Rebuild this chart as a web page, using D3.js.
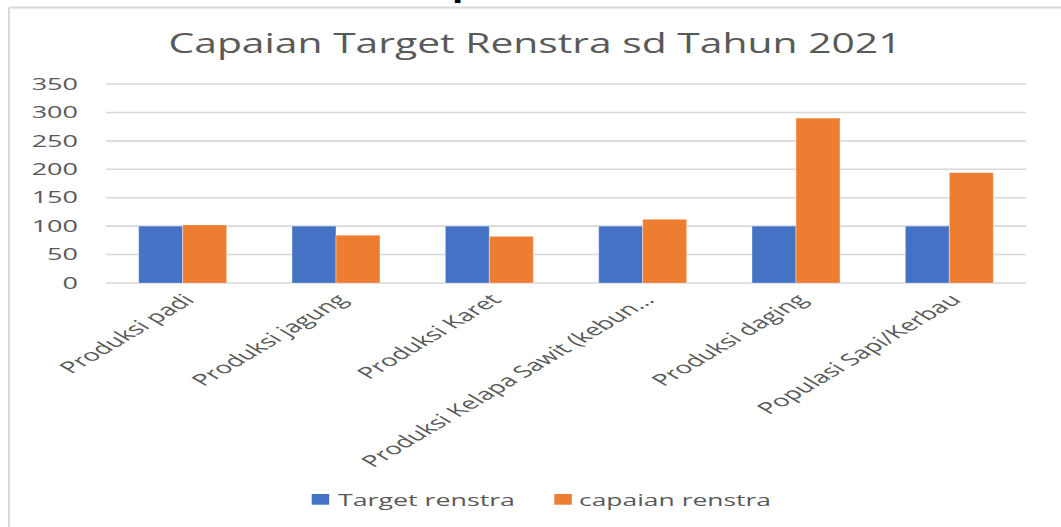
<!DOCTYPE html>
<html>
<head>
<meta charset="utf-8">
<script src="https://cdn.jsdelivr.net/npm/d3@7"></script>
<style>
    body { margin: 0; background: #fff; }
    text { font-family: "Open Sans", sans-serif; fill: #595959; }
</style>
</head>
<body>
<svg id="main-svg" width="1061" height="527"></svg>
<script>
(function() {

    // data
    var categories = ["Produksi padi", "Produksi jagung", "Produksi Karet",
        "Produksi Kelapa Sawit (kebun\u2026", "Produksi daging", "Populasi Sapi/Kerbau"];
    var seriesNames = ["Target renstra", "capaian renstra"];
    var targetValues = [100, 100, 100, 100, 100, 100];
    var capaianValues = [102, 84, 82, 112, 290, 194];
    var yTicks = [0, 50, 100, 150, 200, 250, 300, 350];
    var colors = ["#4472c4", "#ed7d31"];
    var title = "Capaian Target Renstra sd Tahun 2021";

    // the picture is stretched sideways, so draw in a narrower frame and scale it
    var S = 1.69;
    var width = 1061, height = 527;

    var svg = d3.select("#main-svg");

    // chart border (top and left)
    svg.append("line")
    .attr("x1", 9).attr("x2", width).attr("y1", 7.5).attr("y2", 7.5)
    .attr("stroke", "#d9d9d9").attr("stroke-width", 2);
    svg.append("line")
    .attr("x1", 9).attr("x2", 9).attr("y1", 7.5).attr("y2", height)
    .attr("stroke", "#d9d9d9").attr("stroke-width", 2);

    var g = svg.append("g").attr("transform", "scale(" + S + ",1)");

    // leftover of text above the chart
    g.append("text")
    .attr("x", 452 / S).attr("y", -2)
    .style("fill", "#000").style("font-weight", "bold").style("font-size", "22px")
    .text("p");

    var x = d3.scaleBand()
    .domain(categories)
    .range([106 / S, 1026 / S])
    .paddingInner(0.426)
    .paddingOuter(0.213);

    var xs = d3.scaleBand()
    .domain(seriesNames)
    .range([0, x.bandwidth()]);

    var y = d3.scaleLinear().domain([0, 350]).range([283, 84]);

    // title
    g.append("text")
    .attr("x", 535 / S).attr("y", 53.5)
    .attr("text-anchor", "middle")
    .attr("textLength", 733 / S)
    .attr("lengthAdjust", "spacingAndGlyphs")
    .style("font-size", "28px")
    .text(title);

    // gridlines
    g.selectAll(".grid")
    .data(yTicks)
    .enter()
    .append("line")
    .classed("grid", true)
    .attr("x1", 106 / S).attr("x2", 1026 / S)
    .attr("y1", function(d) { return y(d); })
    .attr("y2", function(d) { return y(d); })
    .attr("stroke", "#d9d9d9")
    .attr("stroke-width", 1.6);

    // y tick labels
    g.selectAll(".ytick")
    .data(yTicks)
    .enter()
    .append("text")
    .classed("ytick", true)
    .attr("x", 78 / S)
    .attr("y", function(d) { return y(d); })
    .attr("dy", "0.36em")
    .attr("text-anchor", "end")
    .style("font-size", "16px")
    .text(function(d) { return d; });

    // bars
    var series = [targetValues, capaianValues];
    series.forEach(function(values, si) {
        g.selectAll(".bar-" + si)
        .data(values)
        .enter()
        .append("rect")
        .classed("bar-" + si, true)
        .attr("x", function(d, i) { return x(categories[i]) + xs(seriesNames[si]); })
        .attr("y", function(d) { return y(d); })
        .attr("width", xs.bandwidth())
        .attr("height", function(d) { return y(0) - y(d); })
        .attr("fill", colors[si])
        .attr("stroke", "#fff")
        .attr("stroke-opacity", 0.4)
        .attr("stroke-width", 0.6);
    });

    // category labels
    g.selectAll(".xlabel")
    .data(categories)
    .enter()
    .append("text")
    .classed("xlabel", true)
    .attr("transform", function(d) {
        return "translate(" + (x(d) + x.bandwidth() / 2 + 13 / S) + ",301) rotate(-45)";
    })
    .attr("text-anchor", "end")
    .style("font-size", "16.3px")
    .text(function(d) { return d; });

    // legend
    var legendSquares = [311.7, 554.3];
    var legendText = [338, 579];
    var legendLen = [177, 192];
    seriesNames.forEach(function(name, i) {
        g.append("rect")
        .attr("x", legendSquares[i] / S).attr("y", 494)
        .attr("width", 17.5 / S).attr("height", 10.7)
        .attr("fill", colors[i]);
        g.append("text")
        .attr("x", legendText[i] / S).attr("y", 505.7)
        .attr("textLength", legendLen[i] / S)
        .attr("lengthAdjust", "spacingAndGlyphs")
        .style("font-size", "16px")
        .text(name);
    });
})();
</script>
</body>
</html>
